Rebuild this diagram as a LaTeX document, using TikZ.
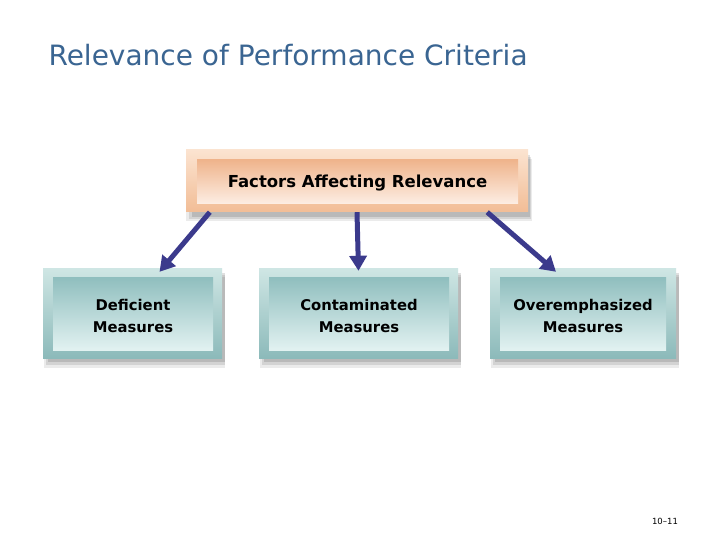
\documentclass[tikz,border=0pt]{standalone}
\usepackage{fontspec}
\setmainfont{DejaVu Sans}
\usetikzlibrary{shadows,arrows.meta}
\definecolor{titleblue}{HTML}{3A6592}
\definecolor{peachouttop}{HTML}{FBE3D0}
\definecolor{peachoutbot}{HTML}{F2BD96}
\definecolor{peachtop}{HTML}{EFB48C}
\definecolor{peachbot}{HTML}{FDEEE4}
\definecolor{tealouttop}{HTML}{CFE6E4}
\definecolor{tealoutbot}{HTML}{8CBABA}
\definecolor{tealtop}{HTML}{8FBEBE}
\definecolor{tealbot}{HTML}{E2F2F1}
\definecolor{arrowblue}{HTML}{3B3A8C}
\tikzset{
  frame/.style={rectangle, inner sep=0pt, draw=none,
    general shadow={shadow xshift=2pt, shadow yshift=-9pt, shadow scale=1.01, fill=black, opacity=0.08},
    general shadow={shadow xshift=3pt, shadow yshift=-7pt, fill=black, opacity=0.10},
    general shadow={shadow xshift=4pt, shadow yshift=-5pt, shadow scale=0.99, fill=black, opacity=0.12}},
  peachframe/.style={frame, top color=peachouttop, bottom color=peachoutbot},
  tealframe/.style={frame, top color=tealouttop, bottom color=tealoutbot},
  peachin/.style={rectangle, inner sep=0pt, draw=none, top color=peachtop, bottom color=peachbot},
  tealin/.style={rectangle, inner sep=0pt, draw=none, top color=tealtop, bottom color=tealbot},
  toptext/.style={inner sep=0pt, font=\bfseries\fontsize{16.5}{19}\selectfont, text=black},
  boxtext/.style={inner sep=0pt, align=center, font=\bfseries\fontsize{14.8}{22.5}\selectfont, text=black},
  conn/.style={draw=arrowblue, line width=5pt, -{Triangle[length=15pt,width=17pt]}}
}
\begin{document}
\begin{tikzpicture}[x=1pt,y=-1pt]
\useasboundingbox (0,0) rectangle (720,540);
\fill[white] (0,0) rectangle (720,540);

\node[anchor=west, text=titleblue, font=\fontsize{28}{32}\selectfont] (title) at (45,55) {Relevance of Performance Criteria};

% top box
\node[peachframe, minimum width=342pt, minimum height=62pt] (top) at (357,181) {};
\node[peachin, minimum width=321pt, minimum height=44pt] (topin) at (357.5,182) {};
\node[toptext] (toplbl) at ([yshift=-1.5pt]topin.center) {Factors Affecting Relevance};

% bottom boxes
\node[tealframe, minimum width=179pt, minimum height=90pt] (b1) at (132.5,313) {};
\node[tealin, minimum width=160pt, minimum height=73pt] (b1in) at (133,313.5) {};
\node[boxtext] (b1lbl) at ([yshift=-2.5pt]b1in.center) {Deficient\\Measures};

\node[tealframe, minimum width=199pt, minimum height=90pt] (b2) at (358.5,313) {};
\node[tealin, minimum width=180pt, minimum height=73pt] (b2in) at (359,313.5) {};
\node[boxtext] (b2lbl) at ([yshift=-2.5pt]b2in.center) {Contaminated\\Measures};

\node[tealframe, minimum width=186pt, minimum height=90pt] (b3) at (583,313) {};
\node[tealin, minimum width=166pt, minimum height=73pt] (b3in) at (583,313.5) {};
\node[boxtext] (b3lbl) at ([yshift=-2.5pt]b3in.center) {Overemphasized\\Measures};

% connectors
\draw[conn] ([xshift=24pt]top.south west) -- ([xshift=27pt,yshift=-4pt]b1.north);
\draw[conn] (top.south) -- ([yshift=-3pt]b2.north);
\draw[conn] ([xshift=-41pt]top.south east) -- ([xshift=-27pt,yshift=-4pt]b3.north);

\node[font=\fontsize{8.5}{10}\selectfont] (pg) at (665,521) {10--11};
\end{tikzpicture}
\end{document}
